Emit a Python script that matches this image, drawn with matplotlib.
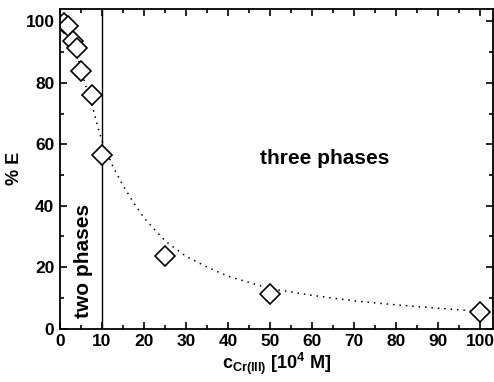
import matplotlib
matplotlib.use("Agg")
import matplotlib.pyplot as plt
from matplotlib.ticker import MultipleLocator

# ======================================
# DATA
# ======================================

conc = [1, 2, 3, 4, 5, 7.5, 10, 25, 50, 100]
extraction = [99.5, 98.5, 93.5, 91.5, 84, 76, 56.5, 23.5, 11.2, 5.5]

fit_x = [2, 3, 4, 5, 6, 7.5, 9, 10, 12.5, 15, 17.5, 20, 25, 30, 35, 40, 50, 60, 70, 80, 90, 100]
fit_y = [97, 93.5, 89, 84.5, 79.5, 73.5, 65.5, 61, 53, 46.5, 41, 36, 28.5, 23.5, 20, 17, 13,
         10.8, 9, 7.7, 6.6, 5.6]

boundary_x = 10

# ======================================
# FONTS
# ======================================

plt.rcParams["font.family"] = "Liberation Sans"
plt.rcParams["font.weight"] = "bold"
plt.rcParams["mathtext.fontset"] = "custom"
plt.rcParams["mathtext.rm"] = "Liberation Sans:bold"
plt.rcParams["mathtext.it"] = "Liberation Sans:bold"
plt.rcParams["mathtext.bf"] = "Liberation Sans:bold"

# ======================================
# PLOT
# ======================================

fig = plt.figure(figsize=(4.94, 3.82), dpi=100)
ax = fig.add_axes([0.1215, 0.14, 0.8765, 0.836])

ax.plot(fit_x, fit_y, color="black", linewidth=1.1, dashes=(1, 3.2))
ax.axvline(boundary_x, color="black", linewidth=1.0)
ax.plot(conc, extraction, linestyle="none", marker="D", markersize=10,
        markerfacecolor="white", markeredgecolor="black", markeredgewidth=1.2)

ax.text(63, 55.5, "three phases", fontsize=15, fontweight="bold",
        ha="center", va="center")
ax.text(5.5, 22, "two phases", fontsize=15, fontweight="bold",
        ha="center", va="center", rotation=90)

ax.set_xlim(0, 103)
ax.set_ylim(0, 104)
ax.xaxis.set_major_locator(MultipleLocator(10))
ax.xaxis.set_minor_locator(MultipleLocator(5))
ax.yaxis.set_major_locator(MultipleLocator(20))
ax.yaxis.set_minor_locator(MultipleLocator(10))
ax.tick_params(which="both", direction="in", top=True, right=True, width=1.2)
ax.tick_params(which="major", length=5, labelsize=12.5, pad=4)
ax.tick_params(which="minor", length=3)
for sp in ax.spines.values():
    sp.set_linewidth(1.3)

ax.set_xlabel(r"c$_{Cr(III)}$ [10$^{4}$ M]", fontsize=13, fontweight="bold", labelpad=1)
ax.set_ylabel("% E", fontsize=13, fontweight="bold", labelpad=2)

fig.savefig("out.png", dpi=100)
